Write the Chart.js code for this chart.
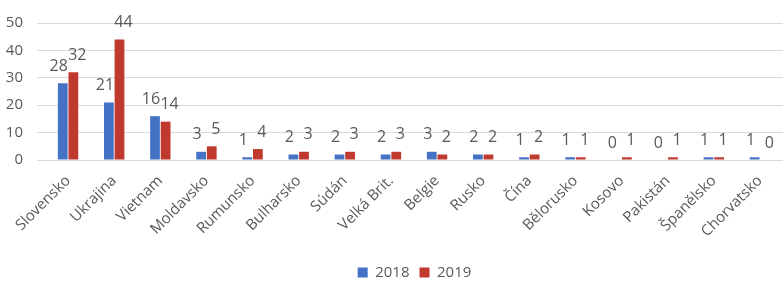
<!DOCTYPE html>
<html>
<head>
<meta charset="utf-8">
<script src="https://cdn.jsdelivr.net/npm/chart.js@4"></script>
<style>
  html, body { margin: 0; padding: 0; background: #fff; }
  #wrap { width: 783px; height: 290px; }
</style>
</head>
<body>
<div id="wrap"><canvas id="myChart"></canvas></div>
<script>
const countries = ['Slovensko', 'Ukrajina', 'Vietnam', 'Moldavsko', 'Rumunsko', 'Bulharsko', 'Súdán',
  'Velká Brit.', 'Belgie', 'Rusko', 'Čína', 'Bělorusko', 'Kosovo', 'Pakistán', 'Španělsko', 'Chorvatsko'];
const values2018 = [28, 21, 16, 3, 1, 2, 2, 2, 3, 2, 1, 1, 0, 0, 1, 1];
const values2019 = [32, 44, 14, 5, 4, 3, 3, 3, 2, 2, 2, 1, 1, 1, 1, 0];
const yTicks = [0, 10, 20, 30, 40, 50];

const textColor = '#595959';
const fontFamily = '"Open Sans", "Noto Sans", sans-serif';

// value labels above each bar (no datalabels plugin available offline)
const barLabels = {
  id: 'barLabels',
  afterDatasetsDraw(chart) {
    const c = chart.ctx;
    c.save();
    c.fillStyle = textColor;
    c.font = '16px ' + fontFamily;
    c.textAlign = 'center';
    c.textBaseline = 'bottom';
    chart.data.datasets.forEach((ds, i) => {
      const meta = chart.getDatasetMeta(i);
      const shift = i === 0 ? -4 : 4;
      meta.data.forEach((bar, j) => {
        c.fillText(String(ds.data[j]), bar.x + shift, bar.y - 9);
      });
    });
    c.restore();
  }
};

// legend sits a little right of centre in the original
const legendShift = {
  id: 'legendShift',
  afterLayout(chart) {
    chart.legend.left += 17;
    chart.legend.right += 17;
  }
};

const ctx = document.getElementById('myChart');
new Chart(ctx, {
  type: 'bar',
  data: {
    labels: countries,
    datasets: [
      { label: '2018', data: values2018, backgroundColor: '#4472C4',
        categoryPercentage: 0.46, barPercentage: 0.92 },
      { label: '2019', data: values2019, backgroundColor: '#C0392E',
        categoryPercentage: 0.46, barPercentage: 0.92 }
    ]
  },
  options: {
    responsive: true,
    maintainAspectRatio: false,
    animation: false,
    layout: { padding: { top: 14, right: -12, bottom: 0, left: 0 } },
    plugins: {
      legend: {
        position: 'bottom',
        labels: {
          boxWidth: 10, boxHeight: 10, padding: 10,
          color: textColor, font: { family: fontFamily, size: 15 }
        }
      },
      tooltip: { enabled: false }
    },
    scales: {
      x: {
        afterFit(axis) { axis.height = 95; },
        grid: { display: false },
        border: { color: '#d9d9d9' },
        ticks: {
          color: textColor, font: { family: fontFamily, size: 15 },
          maxRotation: 45, minRotation: 45, autoSkip: false, padding: 4
        }
      },
      y: {
        min: 0, max: 50,
        afterBuildTicks(axis) { axis.ticks = yTicks.map(v => ({ value: v })); },
        afterFit(axis) { axis.width = 45; },
        grid: { color: '#d9d9d9' },
        border: { display: false },
        ticks: { color: textColor, font: { family: fontFamily, size: 15 }, padding: 14 }
      }
    }
  },
  plugins: [barLabels, legendShift]
});
</script>
</body>
</html>
